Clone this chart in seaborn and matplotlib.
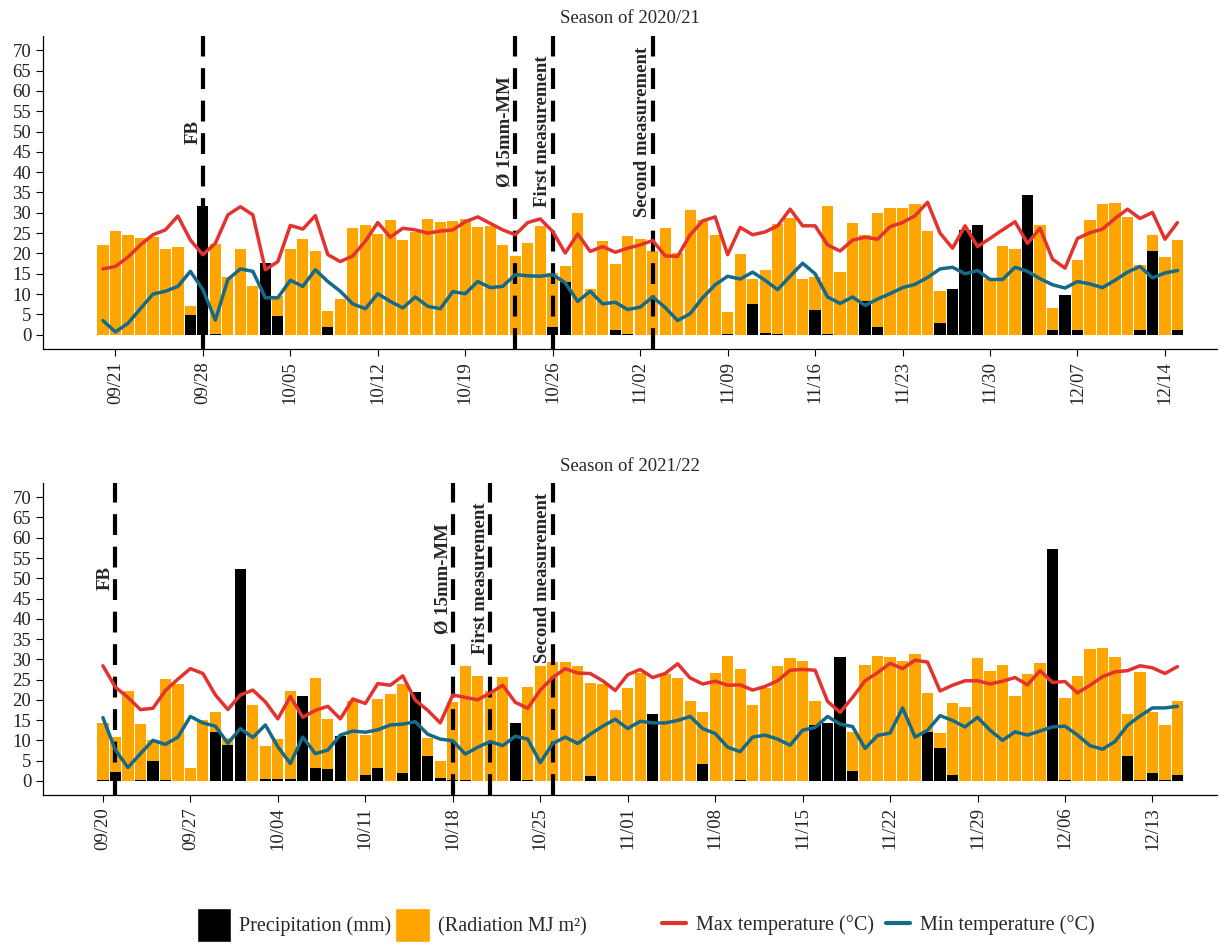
import matplotlib
matplotlib.use("Agg")
import matplotlib.pyplot as plt
from matplotlib.patches import Patch
from matplotlib.lines import Line2D
import numpy as np
import pandas as pd
import seaborn as sns

# ---- season 2020/21 (daily, 2020-09-20 .. 2020-12-15) ----
start_2020 = "2020-09-20"
rad_2020 = [22.0, 25.6, 24.6, 23.8, 24.0, 21.0, 21.5, 7.0, 20.0, 22.4,
            14.1, 21.1, 11.9, 12.0, 9.5, 21.1, 23.6, 20.7, 5.8, 8.7,
            26.2, 27.0, 24.7, 28.2, 23.2, 25.3, 28.5, 27.8, 28.0, 28.5,
            26.4, 26.8, 22.0, 19.3, 22.5, 26.8, 15.2, 16.9, 29.9, 11.3,
            23.1, 17.4, 24.3, 23.6, 20.5, 26.3, 20.1, 30.7, 28.2, 24.6,
            5.6, 19.9, 13.6, 16.0, 27.3, 28.7, 13.6, 14.1, 31.7, 15.4,
            27.6, 24.5, 29.9, 31.1, 31.1, 32.2, 25.6, 10.7, 8.0, 20.0,
            18.0, 13.6, 21.8, 21.1, 20.0, 27.0, 6.7, 7.0, 18.5, 28.2,
            32.2, 32.3, 28.9, 17.2, 24.6, 19.1, 23.4]
prec_2020 = [0, 0, 0, 0, 0, 0, 0, 4.8, 31.7, 0.3,
             0, 0, 0, 17.6, 4.6, 0, 0, 0, 1.8, 0,
             0, 0, 0, 0, 0, 0, 0, 0, 0, 0,
             0, 0, 0, 0, 0, 0, 1.9, 13.0, 0, 0,
             0, 1.1, 0.3, 0, 0, 0, 0, 0, 0, 0,
             0.3, 0, 7.5, 0.5, 0.3, 0, 0, 6.0, 0.2, 0,
             0, 8.3, 1.8, 0, 0, 0, 0, 2.9, 11.3, 25.8,
             27.0, 0, 0, 0, 34.4, 0, 1.1, 9.7, 1.1, 0,
             0, 0, 0, 1.1, 20.6, 0, 1.1]
tmax_2020 = [16.2, 16.8, 19.1, 22.1, 24.6, 25.8, 29.2, 23.3, 19.7, 22.5,
             29.5, 31.5, 29.5, 16.0, 18.0, 26.9, 26.0, 29.3, 19.7, 18.0,
             19.4, 23.0, 27.6, 24.0, 26.2, 25.8, 25.0, 25.5, 25.8, 27.8,
             29.0, 27.4, 25.8, 24.6, 27.6, 28.5, 25.4, 20.1, 24.8, 20.5,
             21.7, 20.3, 21.3, 22.1, 23.2, 19.4, 19.3, 24.6, 28.0, 29.0,
             19.7, 26.4, 24.6, 25.3, 26.8, 30.9, 26.8, 26.8, 22.1, 20.6,
             23.3, 24.0, 23.5, 26.6, 27.6, 29.3, 32.6, 25.0, 21.3, 26.8,
             21.7, 23.7, 25.8, 27.8, 22.5, 26.2, 18.6, 16.4, 23.7, 25.1,
             26.0, 28.6, 30.9, 28.6, 30.1, 23.5, 27.6]
tmin_2020 = [3.5, 0.7, 2.8, 6.4, 10.0, 10.7, 11.9, 15.6, 11.1, 3.6,
             13.6, 16.2, 15.6, 9.1, 9.1, 13.4, 11.9, 16.0, 13.1, 10.7,
             7.6, 6.4, 10.1, 8.2, 6.6, 9.3, 7.0, 6.4, 10.6, 10.1,
             13.1, 11.6, 11.9, 14.8, 14.5, 14.4, 14.8, 12.8, 8.2, 10.7,
             7.6, 8.0, 6.2, 6.8, 9.3, 6.7, 3.5, 5.2, 9.1, 12.3,
             14.4, 13.7, 15.4, 13.4, 11.1, 14.4, 17.6, 15.0, 9.3, 7.7,
             9.3, 7.2, 8.8, 10.1, 11.6, 12.4, 14.1, 16.2, 16.6, 15.0,
             15.8, 13.6, 13.6, 16.6, 15.6, 13.8, 12.3, 11.5, 13.1, 12.5,
             11.6, 13.4, 15.4, 16.8, 14.0, 15.2, 15.8]
event_labels = ["FB", "Ø 15mm-MM", "First measurement", "Second measurement"]
events_2020 = ["2020-09-28", "2020-10-23", "2020-10-26", "2020-11-03"]
tick_start_2020 = "2020-09-21"

# ---- season 2021/22 (daily, 2021-09-20 .. 2021-12-15) ----
start_2021 = "2021-09-20"
rad_2021 = [14.3, 10.8, 22.1, 14.0, 10.0, 25.1, 23.9, 3.2, 14.9, 16.9,
            10.5, 18.0, 18.6, 8.6, 10.4, 22.1, 15.0, 25.3, 15.2, 9.0,
            19.8, 11.2, 20.1, 21.4, 23.9, 18.0, 10.7, 5.0, 19.4, 28.4,
            25.9, 22.2, 25.7, 12.0, 23.2, 28.4, 29.3, 29.4, 28.4, 24.1,
            23.9, 17.6, 22.8, 26.5, 14.0, 26.3, 25.3, 19.8, 17.1, 26.6,
            30.8, 27.7, 18.7, 22.8, 28.4, 30.2, 29.6, 19.8, 12.0, 16.0,
            12.1, 28.6, 30.8, 30.6, 29.6, 31.4, 21.6, 11.7, 19.3, 18.2,
            30.3, 27.2, 28.5, 20.9, 26.3, 29.2, 20.0, 20.5, 26.0, 32.5,
            32.7, 30.6, 16.4, 26.9, 17.1, 13.9, 19.8]
prec_2021 = [0.2, 2.1, 0, 0.2, 4.9, 0.2, 0, 0, 0, 12.1,
             8.8, 52.4, 0, 0.5, 0.4, 0.4, 20.9, 3.1, 2.9, 11.0,
             0, 1.4, 3.1, 0, 1.9, 22.0, 6.2, 0.7, 0.2, 0.2,
             0, 0, 0, 14.3, 0.3, 0, 0, 0, 0, 1.1,
             0, 0, 0, 0, 16.4, 0, 0, 0, 4.2, 0,
             0, 0.2, 0, 0, 0, 0, 0, 13.9, 14.3, 30.6,
             2.5, 0, 0, 0, 0, 0, 12.1, 8.1, 1.5, 0,
             0, 0, 0, 0, 0, 0, 57.3, 0.2, 0, 0,
             0, 0, 6.1, 0.2, 2.0, 0.2, 1.4]
tmax_2021 = [28.4, 23.1, 20.6, 17.6, 17.9, 22.3, 25.1, 27.7, 26.5, 21.2,
             17.6, 21.2, 22.4, 19.5, 15.3, 20.8, 15.7, 17.4, 18.4, 15.3,
             20.2, 19.1, 24.0, 23.6, 25.9, 19.9, 17.4, 14.3, 21.2, 20.6,
             20.0, 21.7, 23.6, 19.4, 17.9, 22.4, 25.5, 27.7, 26.6, 26.5,
             24.7, 22.3, 26.2, 27.5, 25.5, 26.5, 28.9, 25.4, 23.9, 24.6,
             23.6, 23.7, 22.4, 23.3, 24.7, 27.3, 27.5, 27.3, 19.6, 16.9,
             20.6, 24.7, 26.7, 29.0, 27.7, 29.8, 29.3, 22.2, 23.6, 24.7,
             24.7, 23.9, 24.6, 25.5, 23.7, 27.2, 24.3, 24.5, 21.7, 23.6,
             25.7, 26.9, 27.2, 28.4, 27.9, 26.5, 28.2]
tmin_2021 = [15.6, 7.6, 3.3, 6.7, 10.0, 9.0, 10.8, 15.9, 14.3, 13.5,
             9.3, 12.9, 10.7, 13.8, 8.4, 4.3, 10.8, 6.7, 7.6, 11.3,
             12.3, 12.0, 12.6, 13.8, 14.0, 14.6, 11.5, 10.3, 9.9, 6.6,
             8.3, 9.7, 8.7, 11.0, 10.3, 4.5, 9.2, 10.8, 9.2, 11.5,
             13.5, 15.2, 12.9, 14.7, 14.3, 14.3, 14.9, 15.9, 12.9, 11.7,
             8.3, 7.2, 10.8, 11.3, 10.3, 8.8, 12.5, 13.2, 15.9, 14.0,
             13.4, 8.0, 11.2, 11.8, 18.0, 10.8, 12.5, 16.1, 14.9, 13.3,
             15.7, 12.5, 10.0, 12.1, 11.3, 12.3, 13.3, 13.5, 11.3, 8.7,
             7.8, 9.7, 13.7, 16.0, 18.0, 18.0, 18.4]
events_2021 = ["2021-09-21", "2021-10-18", "2021-10-21", "2021-10-26"]
tick_start_2021 = "2021-09-20"

ORANGE = "#FFA500"
RED = "#E3332F"
BLUE = "#146A88"

sns.set_style("ticks")
plt.rcParams["font.family"] = ["Liberation Serif", "DejaVu Serif"]


def draw_season(ax, title, start, rad, prec, tmax, tmin, events, tick_start):
    dates = pd.date_range(start, periods=len(rad), freq="D")
    df = pd.DataFrame({"day": np.arange(len(rad)), "rad": rad, "prec": prec,
                       "tmax": tmax, "tmin": tmin})
    t0 = pd.Timestamp(start)

    sns.barplot(data=df, x="day", y="rad", native_scale=True, color=ORANGE,
                saturation=1, width=0.9, errorbar=None, linewidth=0, ax=ax)
    sns.barplot(data=df, x="day", y="prec", native_scale=True, color="black",
                saturation=1, width=0.9, errorbar=None, linewidth=0, ax=ax)

    for lab, ev in zip(event_labels, events):
        d = (pd.Timestamp(ev) - t0).days
        ax.axvline(d, color="black", lw=3, dashes=(5, 2.8), zorder=3)
        ax.text(d - 0.1, 50, lab, rotation=90, ha="right", va="center",
                fontsize=13.5, fontweight="bold", zorder=4)

    sns.lineplot(data=df, x="day", y="tmax", color=RED, lw=2.5, ax=ax, zorder=5)
    sns.lineplot(data=df, x="day", y="tmin", color=BLUE, lw=2.5, ax=ax, zorder=5)

    ticks = pd.date_range(tick_start, dates[-1], freq="7D")
    ax.set_xticks([(t - t0).days for t in ticks])
    ax.set_xticklabels([t.strftime("%m/%d") for t in ticks], rotation=90)
    ax.set_yticks(range(0, 71, 5))
    ax.set_xlim(-4.8, 89.2)
    ax.set_ylim(-3.5, 73.5)
    ax.set_xlabel("")
    ax.set_ylabel("")
    ax.set_title(title, fontsize=13.5, pad=9)
    ax.tick_params(labelsize=13.5, length=5, width=0.8, colors="black",
                   labelcolor="#222222")
    sns.despine(ax=ax)
    for s in ("left", "bottom"):
        ax.spines[s].set_linewidth(0.9)
        ax.spines[s].set_color("black")


fig = plt.figure(figsize=(12.2, 9.44), dpi=100)
ax1 = fig.add_axes([0.0352, 0.6303, 0.9627, 0.3316])
ax2 = fig.add_axes([0.0352, 0.1578, 0.9627, 0.3305])

draw_season(ax1, "Season of 2020/21", start_2020, rad_2020, prec_2020,
            tmax_2020, tmin_2020, events_2020, tick_start_2020)
draw_season(ax2, "Season of 2021/22", start_2021, rad_2021, prec_2021,
            tmax_2021, tmin_2021, events_2021, tick_start_2021)

fill_handles = [Patch(facecolor="black", label="Precipitation (mm)"),
                Patch(facecolor=ORANGE, label="(Radiation MJ m²)")]
line_handles = [Line2D([], [], color=RED, lw=3, label="Max temperature (°C)"),
                Line2D([], [], color=BLUE, lw=3, label="Min temperature (°C)")]
fig.legend(handles=fill_handles, loc="center", bbox_to_anchor=(0.321, 0.02),
           ncol=2, frameon=False, fontsize=14.5, handlelength=1.7,
           handleheight=2.2, handletextpad=0.4, columnspacing=0.2)
fig.legend(handles=line_handles, loc="center", bbox_to_anchor=(0.72, 0.02),
           ncol=2, frameon=False, fontsize=14.5, handlelength=1.2,
           handletextpad=0.5, columnspacing=0.6)

fig.savefig("out.png", dpi=100, facecolor="white")
